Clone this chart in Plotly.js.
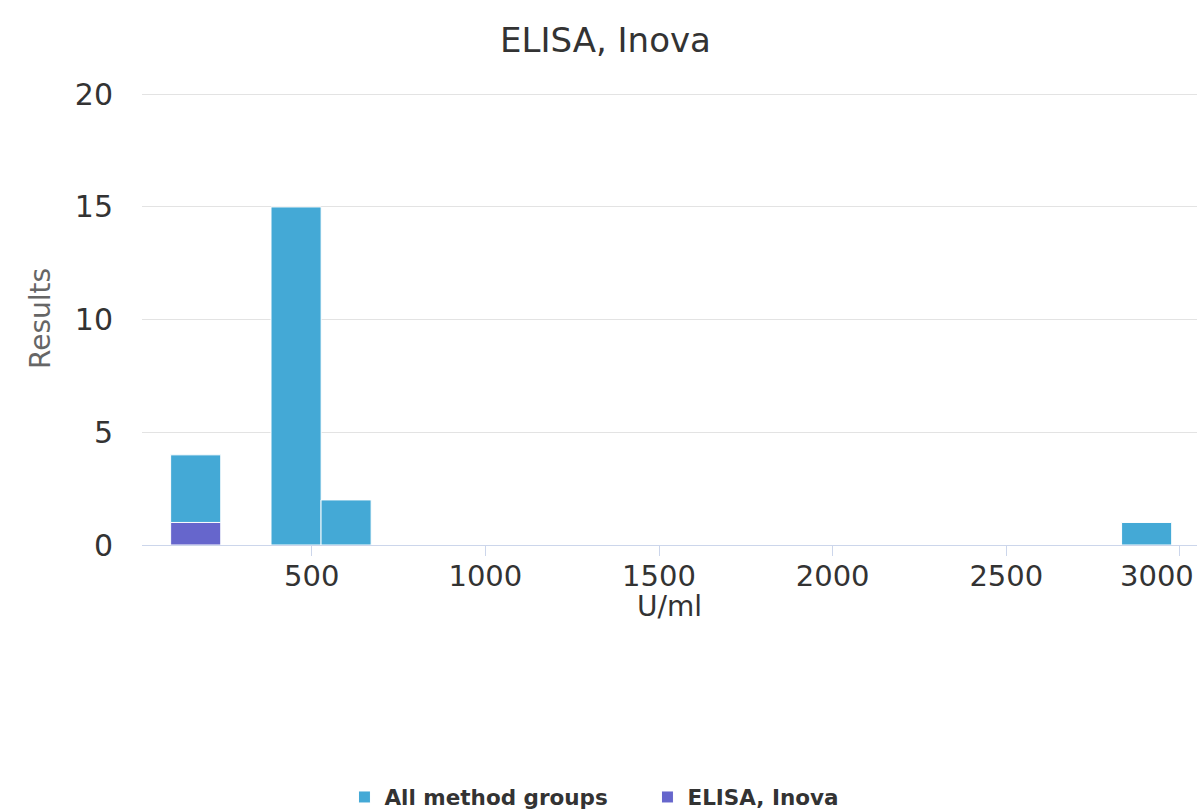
<!DOCTYPE html>
<html>
<head>
<meta charset="utf-8">
<script src="https://cdn.plot.ly/plotly-3.0.1.min.js"></script>
<style>html,body{margin:0;padding:0;background:#fff}#chart{width:1199px;height:811px}</style>
</head>
<body>
<div id="chart"></div>
<script>
// Histogram bins (centres, U/ml) and counts
const binCenters = [166, 455, 599, 2904];
const allMethodCounts = [4, 15, 2, 1];
const inovaCenters = [166];
const inovaCounts = [1];
const binWidth = 144.3;
const seriesNames = ["All method groups", "ELISA, Inova"];
const chartTitle = "ELISA, Inova";
const xTitle = "U/ml";
const yTitle = "Results";
const xTickVals = [500, 1000, 1500, 2000, 2500, 3000];
// the last label (3000) is drawn pulled inside the chart edge, as in the reference
const xTickText = ["500", "1000", "1500", "2000", "2500", ""];
const lastTickLabel = "3000";
const yTickVals = [0, 5, 10, 15, 20];

const FONT = "DejaVu Sans, Verdana, sans-serif";
const PLOT_H = 811 - 92 - 266;

const traces = [
  {
    type: "bar",
    name: seriesNames[0],
    x: binCenters,
    y: allMethodCounts,
    width: binCenters.map(() => binWidth),
    marker: {color: "#44a9d6", line: {color: "#ffffff", width: 1}},
    hoverinfo: "x+y+name"
  },
  {
    type: "bar",
    name: seriesNames[1],
    x: inovaCenters,
    y: inovaCounts,
    width: inovaCenters.map(() => binWidth),
    marker: {color: "#6666cc", line: {color: "#ffffff", width: 1}},
    hoverinfo: "x+y+name"
  }
];

const layout = {
  width: 1199,
  height: 811,
  paper_bgcolor: "#ffffff",
  plot_bgcolor: "#ffffff",
  barmode: "overlay",
  font: {family: FONT, color: "#333333"},
  margin: {l: 142, r: 2, t: 92, b: 266},
  title: {
    text: chartTitle,
    font: {family: FONT, size: 34, color: "#333333"},
    xref: "container", x: 0.505, xanchor: "center",
    yref: "container", y: 1 - 40/811, yanchor: "middle"
  },
  xaxis: {
    range: [11.4, 3049],
    tickvals: xTickVals,
    ticktext: xTickText,
    showgrid: false,
    zeroline: false,
    showline: true,
    linecolor: "#ccd6eb",
    linewidth: 1,
    ticks: "outside",
    ticklen: 10,
    tickcolor: "#ccd6eb",
    tickwidth: 1,
    ticklabelstandoff: -5,
    tickfont: {family: FONT, size: 29, color: "#333333"}
  },
  yaxis: {
    range: [0, 20.1],
    tickvals: yTickVals,
    showgrid: true,
    gridcolor: "#e3e3e3",
    gridwidth: 1,
    zeroline: false,
    showline: false,
    ticks: "",
    ticklabelstandoff: 28,
    tickfont: {family: FONT, size: 30, color: "#333333"},
    title: {text: yTitle, font: {family: FONT, size: 28, color: "#666666"}, standoff: 16}
  },
  annotations: [
    {
      text: lastTickLabel,
      xref: "x", x: xTickVals[xTickVals.length - 1], xanchor: "center", xshift: -23,
      yref: "paper", y: -(576 - 545) / PLOT_H, yanchor: "middle",
      showarrow: false,
      font: {family: FONT, size: 29, color: "#333333"}
    },
    {
      text: xTitle,
      xref: "paper", x: 0.5, xanchor: "center",
      yref: "paper", y: -(606 - 545) / PLOT_H, yanchor: "middle",
      showarrow: false,
      font: {family: FONT, size: 28, color: "#333333"}
    }
  ],
  legend: {
    orientation: "h",
    xref: "container", x: 0.54, xanchor: "center",
    yref: "container", y: 14/811, yanchor: "middle",
    entrywidth: 258,
    entrywidthmode: "pixels",
    font: {family: FONT, size: 21.5, color: "#333333", weight: "bold"},
    traceorder: "normal"
  },
  showlegend: true
};

Plotly.newPlot("chart", traces, layout, {displayModeBar: false, responsive: false});
</script>
</body>
</html>
